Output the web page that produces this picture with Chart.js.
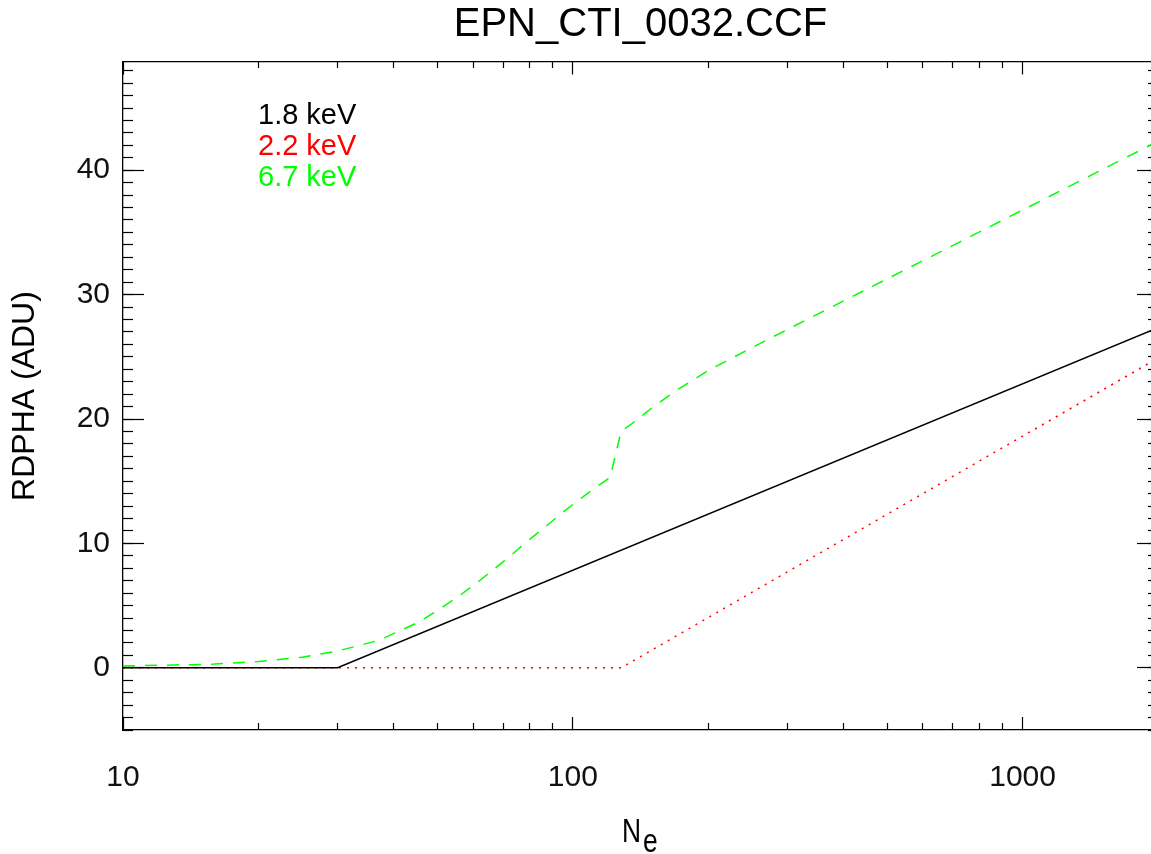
<!DOCTYPE html>
<html><head><meta charset="utf-8">
<script src="https://cdn.jsdelivr.net/npm/chart.js@4.4.1/dist/chart.umd.min.js"></script>
<style>html,body{margin:0;padding:0;overflow:hidden;background:#fff;width:1151px;height:854px}</style>
</head><body>
<canvas id="c" width="1160" height="854" style="width:1160px;height:854px;display:block"></canvas>
<script>
const chartTitle = "EPN_CTI_0032.CCF";
const yTitle = "RDPHA (ADU)";
const xTitleMain = "N";
const xTitleSub = "e";
const seriesNames = ["1.8 keV", "2.2 keV", "6.7 keV"];
const seriesColors = ["#000000", "#ff0000", "#00ff00"];

const xMin = 10, xMax = 2000;
const yMin = -5, yMax = 48.7;

const xMajorTicks = [10, 100, 1000];
const xMinorTicks = [20, 30, 40, 50, 60, 70, 80, 90, 200, 300, 400, 500, 600, 700, 800, 900, 2000];
const yMajorTicks = [0, 10, 20, 30, 40];
const yMinorTicks = [];
for (let v = -5; v <= 48; v++) yMinorTicks.push(v);

// 1.8 keV (solid black)
const ne18 = [10, 30, 2000];
const rd18 = [0, 0, 27.35];
// 2.2 keV (dotted red)
const ne22 = [10, 128, 2000];
const rd22 = [0, 0, 24.9];
// 6.7 keV (dashed green)
const ne67 = [10, 12, 16, 20, 25, 30, 37, 45, 50, 56, 62, 68, 74, 80, 88, 95, 104, 115, 121, 125, 128, 135, 150, 170, 200, 240, 300, 500, 1000, 2000];
const rd67 = [0.15, 0.2, 0.3, 0.5, 0.85, 1.35, 2.2, 3.6, 4.6, 5.8, 7.0, 8.15, 9.25, 10.3, 11.5, 12.5, 13.6, 14.75, 15.3, 17.4, 19.0, 19.6, 20.9, 22.3, 23.9, 25.4, 27.2, 31.27, 36.8, 42.33];

const pts = (xs, ys) => xs.map((x, i) => ({x: x, y: ys[i]}));
const FONT = "'Liberation Sans', Arial, Helvetica, sans-serif";

function setTicks(list) { return s => { s.ticks = list.map(v => ({value: v})); }; }

function logAxis(pos, list, len, h, weight, labels, border) {
  return {
    type: 'logarithmic', position: pos, min: xMin, max: xMax, weight: weight,
    afterBuildTicks: setTicks(list),
    afterFit: s => { s.height = h; },
    ticks: {display: labels, autoSkip: false, maxRotation: 0, minRotation: 0,
      color: '#111', font: {family: FONT, size: 30}, padding: 43,
      callback: v => String(Math.round(v))},
    grid: {drawOnChartArea: false, drawTicks: true, tickLength: len, tickColor: '#000', tickWidth: 1.2, color: '#000'},
    border: {display: border, color: '#000', width: 1.3}
  };
}
function linAxis(pos, list, len, w, weight, labels, border) {
  return {
    type: 'linear', position: pos, min: yMin, max: yMax, weight: weight,
    afterBuildTicks: setTicks(list),
    afterFit: s => { s.width = w; },
    ticks: {display: labels, autoSkip: false, color: '#111', font: {family: FONT, size: 30}, padding: 34,
      callback: v => String(v)},
    grid: {drawOnChartArea: false, drawTicks: true, tickLength: len, tickColor: '#000', tickWidth: 1.2, color: '#000'},
    border: {display: border, color: '#000', width: 1.3}
  };
}

const yAxisMain = linAxis('left', yMajorTicks, -21, 123, 1, true, true);
yAxisMain.title = {display: true, text: yTitle, color: '#000', font: {family: FONT, size: 32}, padding: {top: 6, bottom: 0}};

const textPlugin = {
  id: 'texts',
  afterDraw(chart) {
    const ctx = chart.ctx, a = chart.chartArea;
    ctx.save();
    ctx.font = "29px " + FONT;
    ctx.textAlign = 'left';
    ctx.textBaseline = 'alphabetic';
    seriesNames.forEach((n, i) => {
      ctx.fillStyle = seriesColors[i];
      ctx.fillText(n, a.left + 135, a.top + 61.5 + i * 31);
    });
    // x axis title with subscript
    ctx.fillStyle = '#000';
    ctx.font = "33px " + FONT;
    ctx.save();
    ctx.translate(622, 842);
    ctx.scale(0.8, 1);
    ctx.fillText(xTitleMain, 0, 0);
    ctx.restore();
    ctx.save();
    ctx.translate(643, 852);
    ctx.scale(0.8, 1);
    ctx.fillText(xTitleSub, 0, 0);
    ctx.restore();
    ctx.restore();
  }
};

new Chart(document.getElementById('c'), {
  type: 'line',
  data: {
    datasets: [
      {label: seriesNames[0], data: pts(ne18, rd18), borderColor: seriesColors[0], borderWidth: 1.5, pointRadius: 0, tension: 0, xAxisID: 'x', yAxisID: 'y'},
      {label: seriesNames[1], data: pts(ne22, rd22), borderColor: seriesColors[1], borderWidth: 1.5, borderDash: [2, 6], pointRadius: 0, tension: 0, xAxisID: 'x', yAxisID: 'y'},
      {label: seriesNames[2], data: pts(ne67, rd67), borderColor: seriesColors[2], borderWidth: 1.5, borderDash: [12, 10], pointRadius: 0, tension: 0, xAxisID: 'x', yAxisID: 'y'}
    ]
  },
  options: {
    responsive: false, animation: false, devicePixelRatio: 1,
    layout: {padding: 0},
    plugins: {
      legend: {display: false},
      tooltip: {enabled: false},
      title: {display: true, text: chartTitle, fullSize: false, color: '#000',
        font: {family: FONT, size: 40, weight: 'normal'}, padding: {top: 1, bottom: 0}}
    },
    scales: {
      x: logAxis('bottom', xMajorTicks, -13, 124, 1, true, true),
      xm: logAxis('bottom', xMinorTicks, -7, 0, 0, false, false),
      xt: logAxis('top', xMajorTicks, -12.5, 13, 1, false, true),
      xtm: logAxis('top', xMinorTicks, -6, 0, 0, false, false),
      y: yAxisMain,
      ym: linAxis('left', yMinorTicks, -10, 0, 0, false, false),
      yr: linAxis('right', yMajorTicks, -21, 2, 1, false, true),
      yrm: linAxis('right', yMinorTicks, -10, 0, 0, false, false)
    }
  },
  plugins: [textPlugin]
});
</script>
</body></html>
